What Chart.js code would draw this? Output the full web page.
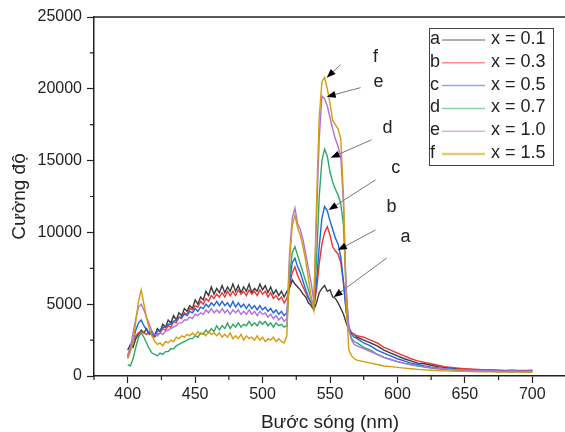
<!DOCTYPE html>
<html>
<head>
<meta charset="utf-8">
<script src="https://cdn.jsdelivr.net/npm/chart.js@4"></script>
<style>
html, body { margin: 0; padding: 0; background: #fff; overflow: hidden; }
#wrap { width: 570px; height: 432px; }
</style>
</head>
<body>
<div id="wrap"><canvas id="myChart"></canvas></div>
<script>
// wavelength grid (nm)
const wavelengths = [
    400, 402, 404, 406, 408, 410, 412, 414, 416, 418,
    420, 422, 424, 426, 428, 430, 432, 434, 436, 438,
    440, 442, 444, 446, 448, 450, 452, 454, 456, 458,
    460, 462, 464, 466, 468, 470, 472, 474, 476, 478,
    480, 482, 484, 486, 488, 490, 492, 494, 496, 498,
    500, 502, 504, 506, 508, 510, 512, 514, 516, 518,
    520, 522, 524, 526, 528, 530, 532, 534, 536, 538,
    540, 542, 544, 546, 548, 550, 552, 554, 556, 558,
    560, 562, 564, 566, 568, 570,
    575, 580, 585, 590, 595, 600, 605, 610, 615, 620, 625, 630, 635,
    640, 645, 650, 655, 660, 665, 670, 675, 680, 685, 690, 695, 700
];

const seriesA = [
    1800, 2200, 2000, 2600, 2900, 3200, 3000, 3300, 2900, 3100,
    2800, 3300, 3100, 3600, 3400, 3900, 3700, 4200, 3900, 4400,
    4200, 4700, 4500, 4900, 4700, 5300, 5000, 5500, 5300, 5900,
    5600, 6200, 5700, 6100, 5800, 6300, 5800, 6200, 5900, 6400,
    5900, 6300, 5800, 6200, 5900, 6400, 5800, 6100, 5900, 6400,
    6000, 6300, 5800, 6200, 5700, 6000, 5600, 5900, 5500, 5900,
    6100, 6700, 6400, 6200, 6000, 5700, 5500, 5100, 4900, 4600,
    5100, 5800, 6100, 6300, 5900, 6000, 5500, 5400, 5100, 4700,
    4300, 3700, 3200, 3000, 2900, 2700,
    2500, 2300, 2100, 1800, 1600, 1400, 1200, 1050, 900, 850, 750, 650, 600,
    550, 500, 480, 450, 420, 400, 400, 380, 370, 380, 350, 360, 380
];
const seriesB = [
    1500, 1900, 2400, 2800, 3000, 3100, 3000, 2900, 3100, 2800,
    2700, 2900, 3000, 3300, 3200, 3500, 3400, 3800, 3700, 4100,
    4000, 4400, 4300, 4700, 4600, 4900, 4800, 5200, 5000, 5400,
    5200, 5600, 5400, 5700, 5500, 5800, 5500, 5900, 5600, 5900,
    5600, 6000, 5700, 5900, 5600, 6000, 5700, 5900, 5600, 6000,
    5700, 5900, 5500, 5800, 5400, 5600, 5300, 5500, 5100, 5400,
    6300, 7200, 7600, 7000, 6600, 6200, 5800, 5400, 5100, 4800,
    6000, 7800, 9200, 10000, 10400, 9800, 9000, 8700, 8500, 7900,
    6500, 4500, 3400, 3000, 2900, 2800,
    2700, 2500, 2300, 2000, 1800, 1600, 1400, 1200, 1050, 950, 850, 750, 650,
    600, 550, 500, 470, 450, 420, 420, 400, 390, 400, 380, 380, 400
];
const seriesC = [
    1300, 1800, 2500, 3200, 3700, 3900, 3500, 3200, 3000, 2900,
    2800, 3100, 3200, 3400, 3400, 3600, 3600, 3800, 3900, 4100,
    4100, 4300, 4200, 4500, 4400, 4700, 4500, 4800, 4700, 5000,
    4800, 5100, 4900, 5200, 4900, 5200, 4900, 5100, 4800, 5200,
    4800, 5100, 4800, 5000, 4700, 5000, 4700, 4900, 4600, 4900,
    4600, 4800, 4500, 4700, 4400, 4600, 4300, 4500, 4200, 4400,
    6500, 7900, 8200, 7600, 7200, 6600, 6000, 5500, 5100, 4700,
    6500, 9000, 11000, 11800, 11500, 10800, 10200, 9600, 9200, 8300,
    6500, 4500, 3300, 2900, 2700, 2600,
    2300, 2100, 1800, 1600, 1400, 1200, 1050, 900, 800, 700, 620, 560, 500,
    470, 440, 420, 400, 380, 360, 360, 350, 340, 350, 330, 340, 350
];
const seriesD = [
    800, 700, 1200, 2000, 2700, 3000, 2700, 2300, 1900, 1600,
    1500, 1400, 1600, 1500, 1700, 1700, 1900, 1900, 2100, 2200,
    2300, 2400, 2500, 2600, 2600, 2800, 2700, 3000, 2900, 3200,
    3000, 3300, 3100, 3500, 3200, 3500, 3300, 3700, 3300, 3600,
    3400, 3700, 3400, 3600, 3500, 3800, 3500, 3700, 3500, 3800,
    3600, 3800, 3500, 3700, 3400, 3700, 3500, 3600, 3400, 3500,
    7000, 8600, 9000, 8400, 7800, 7200, 6600, 6000, 5400, 4900,
    8000, 12500, 15000, 15800, 15300, 14200, 13500, 13000, 12600, 12000,
    10500, 6000, 3200, 2600, 2400, 2300,
    2000, 1800, 1500, 1300, 1150, 1000, 880, 780, 700, 620, 550, 500, 460,
    430, 400, 380, 360, 340, 330, 320, 310, 300, 310, 300, 290, 300
];
const seriesE = [
    1400, 2000, 3000, 4000, 4800, 5000, 4600, 4100, 3600, 3100,
    2900, 2800, 3000, 2900, 3100, 3200, 3300, 3400, 3500, 3700,
    3700, 3900, 3900, 4100, 4000, 4300, 4200, 4400, 4300, 4600,
    4400, 4700, 4400, 4600, 4400, 4700, 4400, 4600, 4300, 4600,
    4400, 4600, 4300, 4500, 4300, 4600, 4300, 4500, 4200, 4500,
    4300, 4400, 4100, 4300, 4000, 4200, 3900, 4100, 3800, 4000,
    8500, 11000, 11700, 10600, 10200, 9500, 8500, 7500, 6500, 5200,
    11000, 16500, 19500, 19300, 18800, 18000, 17200, 16500, 16000, 15200,
    12000, 6000, 3300, 2500, 2200, 2100,
    1900, 1700, 1500, 1300, 1150, 1000, 900, 800, 720, 650, 580, 530, 490,
    460, 440, 420, 400, 380, 370, 360, 350, 340, 350, 340, 330, 350
];
const seriesF = [
    1200, 1700, 2400, 3800, 5200, 6000, 5000, 4000, 3300, 2800,
    2400, 2200, 2300, 2100, 2400, 2300, 2500, 2400, 2700, 2600,
    2800, 2700, 2900, 2800, 3000, 2800, 3100, 2900, 3000, 2800,
    3100, 2900, 3000, 2800, 3000, 2700, 2900, 2700, 3000, 2600,
    2800, 2600, 2900, 2500, 2800, 2600, 2700, 2500, 2800, 2500,
    2700, 2400, 2600, 2500, 2700, 2400, 2600, 2400, 2300, 2800,
    8000, 10500, 11200, 10300, 9800, 9000, 8000, 6800, 5500, 4600,
    12000, 18000, 20500, 20800, 20000, 19000, 17800, 17500, 17200, 16500,
    12500, 5000, 1800, 1400, 1200, 1100,
    1000, 900, 800, 700, 650, 600, 550, 500, 460, 430, 400, 380, 360,
    340, 330, 320, 310, 300, 290, 290, 280, 270, 280, 270, 260, 270
];

const seriesLetters = ['a', 'b', 'c', 'd', 'e', 'f'];
const seriesLabels = ['x = 0.1', 'x = 0.3', 'x = 0.5', 'x = 0.7', 'x = 1.0', 'x = 1.5'];
const seriesValues = [seriesA, seriesB, seriesC, seriesD, seriesE, seriesF];
const seriesColors = ['#3a3a3a', '#ee3333', '#1f66dd', '#2ea866', '#b070e0', '#d49c10'];

const xTicks = [400, 450, 500, 550, 600, 650, 700];

// arrow annotations, in data units: tip on the curve, tail, letter
const annoTip = [[552.7, 5490], [555.8, 8770], [549, 11560], [550.5, 15200], [547.5, 19450], [547.5, 20775]];
const annoTail = [[592, 8210], [583.8, 10170], [583.8, 13660], [580.9, 16450], [572.7, 20080], [557.9, 21680]];
const annoText = [[606, 9680], [595.7, 11770], [598.7, 14500], [592.7, 17290], [586, 20500], [583.8, 22240]];

const FONT = '"Liberation Sans", Arial, sans-serif';
const INK = '#222';

const extras = {
    id: 'extras',
    afterDatasetsDraw(chart) {
        const ctx = chart.ctx;
        const xs = chart.scales.x, ys = chart.scales.y;
        ctx.save();
        for (let i = 0; i < annoTip.length; i++) {
            const tx = xs.getPixelForValue(annoTip[i][0]), ty = ys.getPixelForValue(annoTip[i][1]);
            const sx = xs.getPixelForValue(annoTail[i][0]), sy = ys.getPixelForValue(annoTail[i][1]);
            const ang = Math.atan2(ty - sy, tx - sx);
            ctx.strokeStyle = '#777';
            ctx.lineWidth = 1;
            ctx.beginPath();
            ctx.moveTo(sx, sy);
            ctx.lineTo(tx - 6 * Math.cos(ang), ty - 6 * Math.sin(ang));
            ctx.stroke();
            ctx.fillStyle = '#000';
            ctx.beginPath();
            ctx.moveTo(tx, ty);
            ctx.lineTo(tx - 9 * Math.cos(ang) + 3.5 * Math.sin(ang), ty - 9 * Math.sin(ang) - 3.5 * Math.cos(ang));
            ctx.lineTo(tx - 9 * Math.cos(ang) - 3.5 * Math.sin(ang), ty - 9 * Math.sin(ang) + 3.5 * Math.cos(ang));
            ctx.closePath();
            ctx.fill();
            ctx.fillStyle = INK;
            ctx.font = '18px ' + FONT;
            ctx.textAlign = 'center';
            ctx.textBaseline = 'middle';
            ctx.fillText(seriesLetters[i], xs.getPixelForValue(annoText[i][0]), ys.getPixelForValue(annoText[i][1]));
        }
        ctx.restore();
    },
    afterDraw(chart) {
        const ctx = chart.ctx;
        const a = chart.chartArea;
        const xs = chart.scales.x, ys = chart.scales.y;
        ctx.save();
        // top frame line
        ctx.strokeStyle = INK;
        ctx.lineWidth = 1.5;
        ctx.beginPath();
        ctx.moveTo(a.left, a.top);
        ctx.lineTo(a.right, a.top);
        ctx.stroke();
        // minor ticks
        ctx.lineWidth = 1.2;
        ctx.beginPath();
        for (let v = 375; v <= 725; v += 50) {
            const px = xs.getPixelForValue(v);
            ctx.moveTo(px, a.bottom);
            ctx.lineTo(px, a.bottom + 4);
        }
        for (let v = 2500; v < 25000; v += 5000) {
            const py = ys.getPixelForValue(v);
            ctx.moveTo(a.left, py);
            ctx.lineTo(a.left - 4, py);
        }
        ctx.stroke();
        // legend box
        const lx = 429, ly = 28, lw = 124, lh = 137;
        ctx.fillStyle = '#fff';
        ctx.fillRect(lx, ly, lw, lh);
        ctx.strokeStyle = '#444';
        ctx.lineWidth = 1;
        ctx.strokeRect(lx + 0.5, ly + 0.5, lw, lh);
        ctx.font = '18px ' + FONT;
        ctx.textBaseline = 'middle';
        for (let i = 0; i < seriesLetters.length; i++) {
            const y = ly + 11 + i * 22.8;
            ctx.fillStyle = INK;
            ctx.textAlign = 'left';
            ctx.fillText(seriesLetters[i], lx + 1, y);
            ctx.fillText(seriesLabels[i], lx + 62, y);
            ctx.globalAlpha = 0.55;
            ctx.strokeStyle = seriesColors[i];
            ctx.lineWidth = i === 5 ? 2.5 : 1.5;
            ctx.beginPath();
            ctx.moveTo(lx + 13, y + 1);
            ctx.lineTo(lx + 56, y + 1);
            ctx.stroke();
            ctx.globalAlpha = 1;
        }
        ctx.restore();
    }
};

document.addEventListener("DOMContentLoaded", function() {
    const ctx = document.getElementById('myChart').getContext('2d');
    const datasets = seriesValues.map((vals, i) => ({
        label: seriesLabels[i],
        data: vals.map((v, j) => ({ x: wavelengths[j], y: v })),
        borderColor: seriesColors[i],
        borderWidth: 1.4,
        pointRadius: 0,
        tension: 0,
        order: 5 - i
    }));
    new Chart(ctx, {
        type: 'line',
        data: { datasets: datasets },
        options: {
            responsive: true,
            maintainAspectRatio: false,
            animation: false,
            layout: { padding: { top: 17, right: 4, left: 0, bottom: 0 } },
            plugins: { legend: { display: false }, tooltip: { enabled: false } },
            scales: {
                x: {
                    type: 'linear',
                    min: 375,
                    max: 725,
                    afterBuildTicks: s => { s.ticks = xTicks.map(v => ({ value: v })); },
                    afterFit: s => { s.height = 56; },
                    ticks: { font: { size: 16, family: FONT }, color: INK, padding: 2, maxRotation: 0, autoSkip: false,
                             callback: v => String(v) },
                    grid: { drawOnChartArea: false, tickLength: 7, tickColor: INK, tickWidth: 1.2 },
                    border: { color: INK, width: 1.5 },
                    title: { display: true, text: 'Bước sóng (nm)', font: { size: 19, family: FONT }, color: INK, padding: { top: 0, bottom: -2 } }
                },
                y: {
                    min: 0,
                    max: 25000,
                    afterFit: s => { s.width = 94; },
                    ticks: { stepSize: 5000, font: { size: 16, family: FONT }, color: INK, padding: 5,
                             callback: v => String(v) },
                    grid: { drawOnChartArea: false, tickLength: 7, tickColor: INK, tickWidth: 1.2 },
                    border: { color: INK, width: 1.5 },
                    title: { display: true, text: 'Cường độ', font: { size: 19, family: FONT }, color: INK, padding: { top: 8, bottom: 0 } }
                }
            }
        },
        plugins: [extras]
    });
});
</script>
</body>
</html>
